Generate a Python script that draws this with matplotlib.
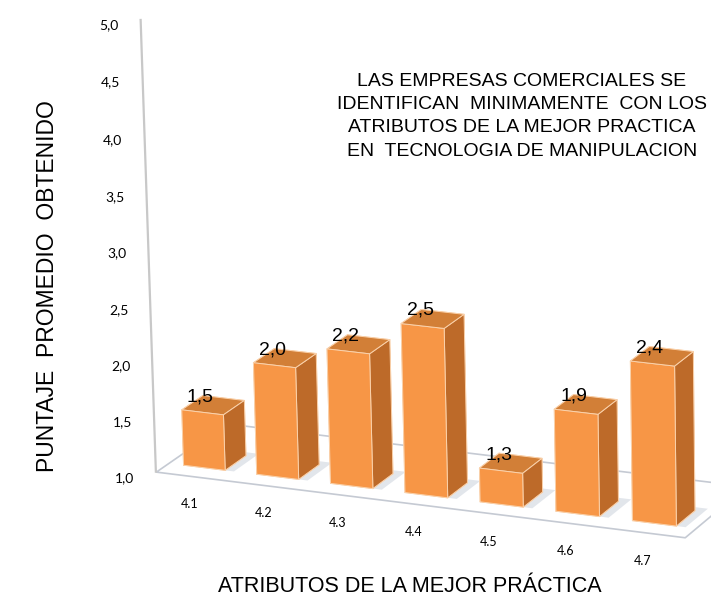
import matplotlib
matplotlib.use("Agg")
import matplotlib.pyplot as plt
import numpy as np
from mpl_toolkits.mplot3d.art3d import Poly3DCollection

# datos del grafico
categorias = ["4.1", "4.2", "4.3", "4.4", "4.5", "4.6", "4.7"]
puntajes = [1.5, 2.0, 2.2, 2.5, 1.3, 1.9, 2.4]
marcas_y = [1.0, 1.5, 2.0, 2.5, 3.0, 3.5, 4.0, 4.5, 5.0]
titulo = ["LAS EMPRESAS COMERCIALES SE",
          "IDENTIFICAN  MINIMAMENTE  CON LOS",
          "ATRIBUTOS DE LA MEJOR PRACTICA",
          "EN  TECNOLOGIA DE MANIPULACION"]
etiqueta_x = "ATRIBUTOS DE LA MEJOR PRÁCTICA"
etiqueta_y = "PUNTAJE  PROMEDIO  OBTENIDO"

NORMAL = ["Liberation Sans", "DejaVu Sans"]
CHICA = ["Lato", "DejaVu Sans"]


def coma(v):
    return f"{v:.1f}".replace(".", ",")


fig = plt.figure(figsize=(7.11, 5.96), dpi=100)
ax = fig.add_axes([0.1139, 0.0603, 1.0, 1.0], projection="3d")
ax.set_proj_type("persp", focal_length=2.2)
ax.view_init(elev=17, azim=-66, roll=1.2)
ax.set_axis_off()
ax.computed_zorder = False

x0, x1 = -0.50, 6.53
y0, y1 = 0.0, 1.0
z0, z1 = 1.0, 5.0
ax.set_xlim(x0, x1)
ax.set_ylim(y0, y1)
ax.set_zlim(z0, z1)
ax.set_box_aspect(((x1 - x0) * 84.5, (y1 - y0) * 170, (z1 - z0) * 122), zoom=1.248)

# piso
piso = Poly3DCollection([[(x0, y0, z0), (x1, y0, z0), (x1, y1, z0), (x0, y1, z0)]],
                        facecolor="white", edgecolor="#C5CAD3", linewidth=1.2, zorder=1)
ax.add_collection3d(piso)

# eje vertical en la esquina delantera izquierda
ax.plot([x0, x0], [y0, y0], [z0, z1], color="#C8C8C8", lw=1.6, zorder=2)

pos = np.arange(len(categorias))
ancho = 0.57
fondo = 0.30
ybar = 0.17

# sombra suave de cada barra sobre el piso
sombras = [[(p - ancho / 2, ybar, z0), (p + ancho / 2 + 0.12, ybar, z0),
            (p + ancho / 2 + 0.12, ybar + fondo + 0.06, z0), (p - ancho / 2, ybar + fondo + 0.06, z0)]
           for p in pos]
ax.add_collection3d(Poly3DCollection(sombras, facecolor="#AEB8C8", edgecolor="none",
                                     alpha=0.35, zorder=2))

colores = []
for _ in pos:
    # -z, +z, -y, +y, -x, +x
    colores += ["#F79646", "#D27F37", "#F79646", "#F79646", "#F79646", "#BD6A29"]
alturas = np.array(puntajes) - z0
ax.bar3d(pos - ancho / 2, np.full(len(pos), ybar), np.full(len(pos), z0),
         ancho, fondo, alturas, color=colores, shade=False,
         edgecolor="#FAD2AC", linewidth=0.7, zorder=3)

# valores sobre las barras
for p, v in zip(pos, puntajes):
    ax.text(p - 0.03, ybar, v + 0.06, coma(v), ha="center", va="bottom",
            fontsize=14, family=NORMAL, zorder=5)

# categorias
for p, c in zip(pos, categorias):
    ax.text(p + 0.15, -0.2, 0.85, c, ha="center", va="center", fontsize=9,
            family=CHICA, zorder=5)

# marcas del eje vertical
for m in marcas_y:
    ax.text(x0 - 0.15, -0.15, m, coma(m), ha="right", va="center", fontsize=10,
            family=CHICA, zorder=5)

for i, linea in enumerate(titulo):
    fig.text(522 / 711, 1 - (81 + i * 23.5) / 596, linea, ha="center", va="center",
             fontsize=14, family=NORMAL)

fig.text(410 / 711, 1 - 586 / 596, etiqueta_x, ha="center", va="center",
         fontsize=15.5, family=NORMAL)
fig.text(47 / 711, 1 - 286 / 596, etiqueta_y, ha="center", va="center",
         rotation=90, fontsize=16.5, family=NORMAL)

fig.savefig("out.png", dpi=100)
